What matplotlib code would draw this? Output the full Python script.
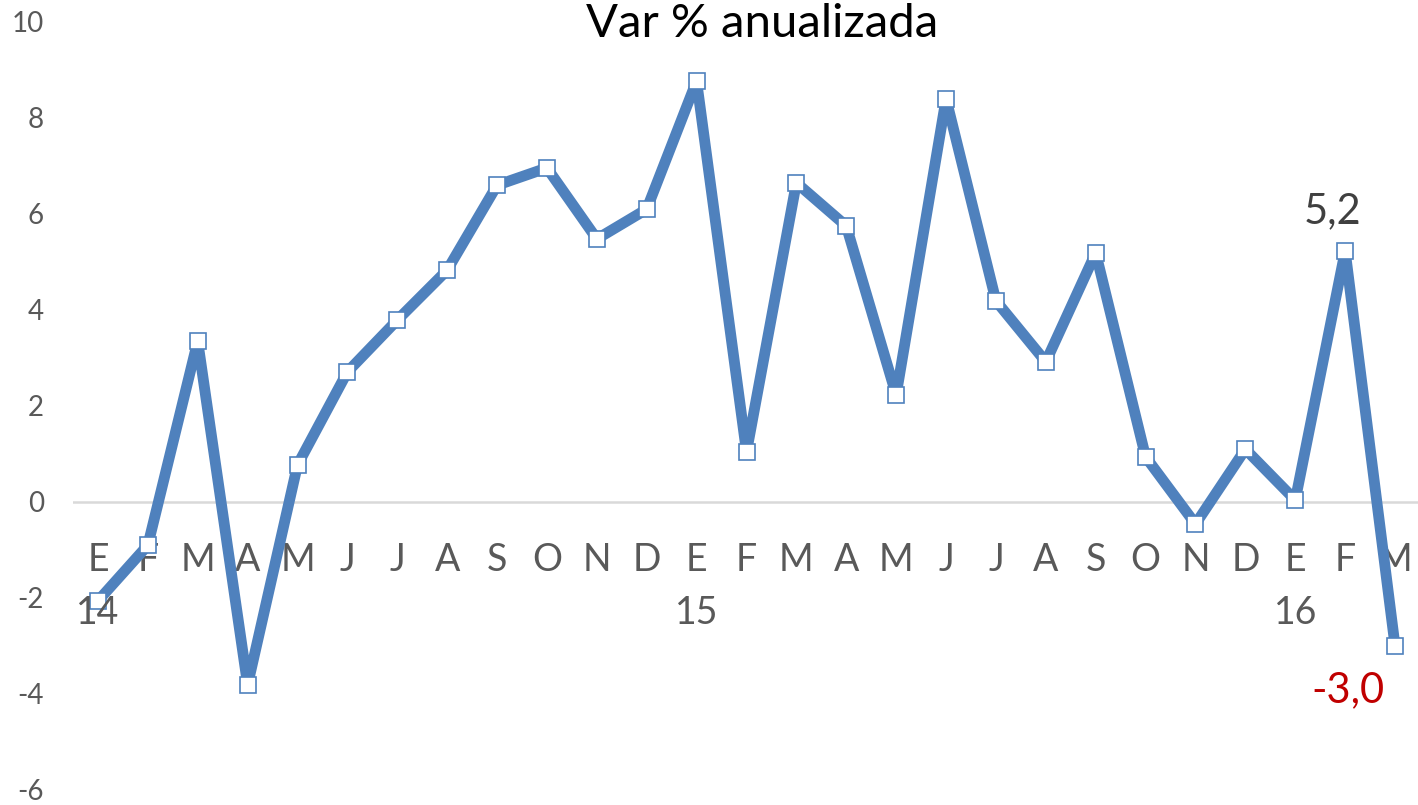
import matplotlib
matplotlib.use("Agg")
import matplotlib.pyplot as plt
import numpy as np

plt.rcParams['font.family'] = ['Lato', 'DejaVu Sans']

# datos: variación % anualizada, ene-2014 a mar-2016
meses = ["E", "F", "M", "A", "M", "J", "J", "A", "S", "O", "N", "D",
         "E", "F", "M", "A", "M", "J", "J", "A", "S", "O", "N", "D",
         "E", "F", "M"]
anios = ["14", "15", "16"]
pos_anios = [0, 12, 24]
valores = [-2.06, -0.90, 3.35, -3.81, 0.77, 2.71, 3.79, 4.83, 6.60, 6.96,
           5.48, 6.10, 8.77, 1.04, 6.65, 5.75, 2.23, 8.40, 4.19, 2.92,
           5.19, 0.94, -0.46, 1.10, 0.04, 5.23, -3.00]

AZUL = '#4F81BD'
GRIS = '#595959'

fig = plt.figure(figsize=(14.18, 8.05), dpi=100)
ax = fig.add_axes([73 / 1418, 1 - 790 / 805, (1420 - 73) / 1418, (790 - 22) / 805])

x = np.arange(len(valores))
ax.plot(x, valores, color=AZUL, lw=7.8, marker='s', markersize=12,
        markerfacecolor='white', markeredgecolor=AZUL, markeredgewidth=1.2,
        solid_joinstyle='round', solid_capstyle='round', zorder=3)

ax.set_xlim(-0.5, len(valores) - 0.5)
ax.set_ylim(-6, 10)
ax.set_yticks(np.arange(-6, 11, 2))
ax.set_yticklabels([str(v) for v in range(-6, 11, 2)])

# eje horizontal en cero
ax.axhline(0, color='#D9D9D9', lw=1.8, zorder=1)
for s in ax.spines.values():
    s.set_visible(False)

ax.set_xticks(x)
ax.set_xticklabels(meses)
ax.spines['bottom'].set_position(('data', 0))
ax.tick_params(axis='x', length=0, pad=29, labelsize=27, labelcolor=GRIS)
ax.tick_params(axis='y', length=0, pad=21, labelsize=20, labelcolor=GRIS)

for p, a in zip(pos_anios, anios):
    ax.annotate(a, xy=(p, 0), xytext=(0, -67), textcoords='offset points',
                ha='center', va='top', fontsize=27, color=GRIS)

# etiquetas de los dos últimos datos
ax.annotate("5,2", xy=(25, valores[25]), xytext=(-9, 15), textcoords='offset points',
            ha='center', va='bottom', fontsize=30, color='#404040')
ax.annotate("-3,0", xy=(26, valores[26]), xytext=(-34, -18), textcoords='offset points',
            ha='center', va='top', fontsize=30, color='#C00000')

fig.text(762 / 1418, 1 - 24 / 805, "Var % anualizada", ha='center', va='center',
         fontsize=34, color='black')

fig.savefig("out.png", dpi=100)
